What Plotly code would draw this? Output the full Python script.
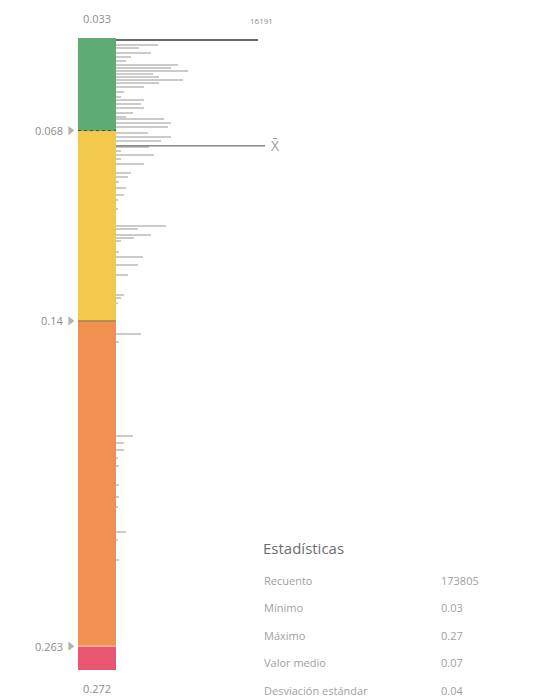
import plotly.graph_objs as go

# class breaks of the colour ramp
breaks = [0.033, 0.068, 0.14, 0.263, 0.272]
class_colors = ['#5fab76', '#f2c94c', '#f09152', '#e9566f']

# histogram of the values (bin centre, pixel count)
bin_values = [0.0338, 0.0357, 0.0368, 0.0387, 0.0402, 0.0417, 0.0432, 0.0444, 0.0455,
              0.0466, 0.0478, 0.0489, 0.0500, 0.0515, 0.0534, 0.0553, 0.0565, 0.0580,
              0.0595, 0.0614, 0.0629, 0.0636, 0.0652, 0.0667,
              0.0689, 0.0704, 0.0720, 0.0742, 0.0757, 0.0773, 0.0788, 0.0807, 0.0841,
              0.0856, 0.0875, 0.0897, 0.0924, 0.0943, 0.0977, 0.1041, 0.1052, 0.1075,
              0.1086, 0.1098, 0.1139, 0.1158, 0.1189, 0.1226, 0.1302, 0.1313, 0.1332,
              0.1450, 0.1480, 0.1835, 0.1862, 0.1888, 0.1919, 0.1949, 0.2021, 0.2066,
              0.2104, 0.2198, 0.2229, 0.2304]
counts = [16191, 4790, 2620, 3990, 1710, 1140, 7070, 6270, 8210,
          4220, 4900, 7640, 4900, 3190, 910, 570, 3190, 2850,
          3190, 1940, 1140, 5470, 6270, 5930,
          3650, 6270, 5130, 3760, 570, 4330, 570, 3190, 1710,
          1370, 340, 1140, 910, 230, 230, 5700, 2510, 3990,
          2050, 570, 340, 3080, 2510, 1370, 910, 570, 230,
          2850, 340, 1940, 910, 910, 230, 340, 340, 340,
          120, 1140, 230, 340]
mean_value = 0.0738

stat_names = ['Recuento', 'Mínimo', 'Máximo', 'Valor medio', 'Desviación estándar']
stat_values = ['173805', '0.03', '0.27', '0.07', '0.04']

OFF = 8  # page body margin
W, H = 533 - OFF, 700 - OFF
grey = '#8c8c8c'
font = 'Open Sans'


def px(x):
    return (x - OFF) / W


def py(y):
    return 1 - (y - OFF) / H


def label(text, x, y, size=11, color=grey, xref='paper', yref='paper', xanchor='center'):
    fig.add_annotation(xref=xref, yref=yref, x=x, y=y, text=text, showarrow=False,
                       xanchor=xanchor, yanchor='middle',
                       font=dict(family=font, size=size, color=color))


fig = go.Figure()

# colour ramp column
fig.add_trace(go.Bar(
    x=[0] * len(class_colors),
    y=[b - a for a, b in zip(breaks[:-1], breaks[1:])],
    base=breaks[:-1],
    width=1,
    marker=dict(color=class_colors, line=dict(width=0)),
    xaxis='x', yaxis='y', hoverinfo='skip', showlegend=False
))

# break markers
fig.add_trace(go.Scatter(
    x=[-0.7] * 3, y=breaks[1:-1], mode='markers',
    marker=dict(symbol='triangle-right', size=8, color='#b4b4b4'),
    xaxis='x', yaxis='y', hoverinfo='skip', showlegend=False
))

# histogram
bar_cols = ['#6a6a6a' if c == max(counts) else '#cbcbcb' for c in counts]
fig.add_trace(go.Bar(
    x=counts, y=bin_values, orientation='h', width=0.00035,
    marker=dict(color=bar_cols, line=dict(width=0)),
    xaxis='x2', yaxis='y', showlegend=False
))

line_cols = ['#4d4d40', '#8a6a45', '#f7d7c0']
for b, c in zip(breaks[1:-1], line_cols):
    fig.add_shape(type='line', xref='x', yref='y', x0=-0.5, x1=0.5, y0=b, y1=b,
                  line=dict(color=c, width=1, dash='dot' if b == breaks[1] else 'solid'))

# mean line
fig.add_shape(type='line', xref='x2 domain', yref='y', x0=0, x1=0.81,
              y0=mean_value, y1=mean_value, line=dict(color='#4a4a4a', width=1))
label('X̄', 0.83, mean_value, size=14, color='#9a9a9a', xref='x2 domain', yref='y',
      xanchor='left')

# range labels
label(f'{breaks[0]}', 0, py(18), xref='x')
label(f'{breaks[-1]}', 0, py(688), xref='x')
label(f'{max(counts)}', px(261), py(20), size=8)
for b in breaks[1:-1]:
    label(f'{b:g}', px(65), b, yref='y', xanchor='right')

# statistics panel
label('Estadísticas', px(261), py(548), size=15, color='#6e6e6e', xanchor='left')
for i, (n, v) in enumerate(zip(stat_names, stat_values)):
    yy = py(580 + i * 27.5)
    label(n, px(262), yy, color='#a0a0a0', xanchor='left')
    label(v, px(439), yy, color='#a0a0a0', xanchor='left')

# colour column axis: unit bar spans 78-116 px, room on the left for the markers
fig.update_layout(
    width=W, height=H,
    margin=dict(l=0, r=0, t=0, b=0),
    paper_bgcolor='white', plot_bgcolor='white',
    barmode='overlay', bargap=0,
    xaxis=dict(domain=[px(60), px(116)], range=[0.5 - 56 / 38, 0.5], visible=False,
               anchor='y', fixedrange=True),
    xaxis2=dict(domain=[px(116), px(300)], range=[0, max(counts) * 184 / 142],
                visible=False, anchor='y'),
    yaxis=dict(domain=[py(670), py(38)], range=[breaks[-1], breaks[0]], visible=False,
               anchor='x'),
    showlegend=False
)

fig.write_html("out.html")
